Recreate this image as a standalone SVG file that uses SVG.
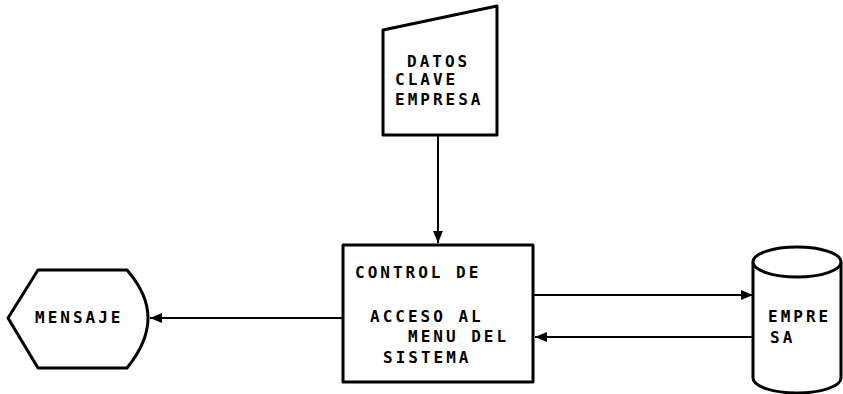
<svg xmlns="http://www.w3.org/2000/svg" width="843" height="394" viewBox="0 0 843 394">
<style>
.shape{fill:#fff;stroke:#000;stroke-width:3;stroke-linejoin:round}
.conn{fill:none;stroke:#000;stroke-width:2}
.t{font-family:"DejaVu Sans Mono","Liberation Mono",monospace;font-weight:bold;font-size:16px;letter-spacing:3px;fill:#000}
</style>
<defs>
<marker id="ah" viewBox="0 0 12 10" refX="12" refY="5" markerWidth="12" markerHeight="10" markerUnits="userSpaceOnUse" orient="auto">
<path d="M0,0 L12,5 L0,10 Z" fill="#000"/>
</marker>
</defs>
<rect width="843" height="394" fill="#fff"/>
<g id="connectors">
<line class="conn" x1="438" y1="136" x2="438" y2="243" marker-end="url(#ah)"/>
<line class="conn" x1="343" y1="318" x2="150" y2="318" marker-end="url(#ah)"/>
<line class="conn" x1="534" y1="295" x2="753" y2="295" marker-end="url(#ah)"/>
<line class="conn" x1="753" y1="337" x2="535" y2="337" marker-end="url(#ah)"/>
</g>
<g id="datos">
<path class="shape" d="M383,30 L497,6 L497,135 L383,135 Z"/>
<text class="t" x="407" y="67">DATOS</text>
<text class="t" x="395" y="85">CLAVE</text>
<text class="t" x="395" y="105">EMPRESA</text>
</g>
<g id="control">
<rect class="shape" x="343" y="245" width="190" height="137"/>
<text class="t" x="355" y="278">CONTROL DE</text>
<text class="t" x="370" y="322">ACCESO AL</text>
<text class="t" x="408" y="342">MENU DEL</text>
<text class="t" x="383" y="363">SISTEMA</text>
</g>
<g id="mensaje">
<path class="shape" d="M38,270 L127,270 C140,285 148,300 148,318 C148,336 140,352 127,368 L38,368 L8,318 Z"/>
<text class="t" x="35" y="323">MENSAJE</text>
</g>
<g id="empresa">
<path class="shape" d="M753,262 A44,15 0 0 1 841,262 L841,378 A44,15 0 0 1 753,378 Z"/>
<path class="shape" fill="none" d="M753,262 A44,15 0 0 0 841,262"/>
<text class="t" x="768" y="322">EMPRE</text>
<text class="t" x="770" y="343">SA</text>
</g>
</svg>
